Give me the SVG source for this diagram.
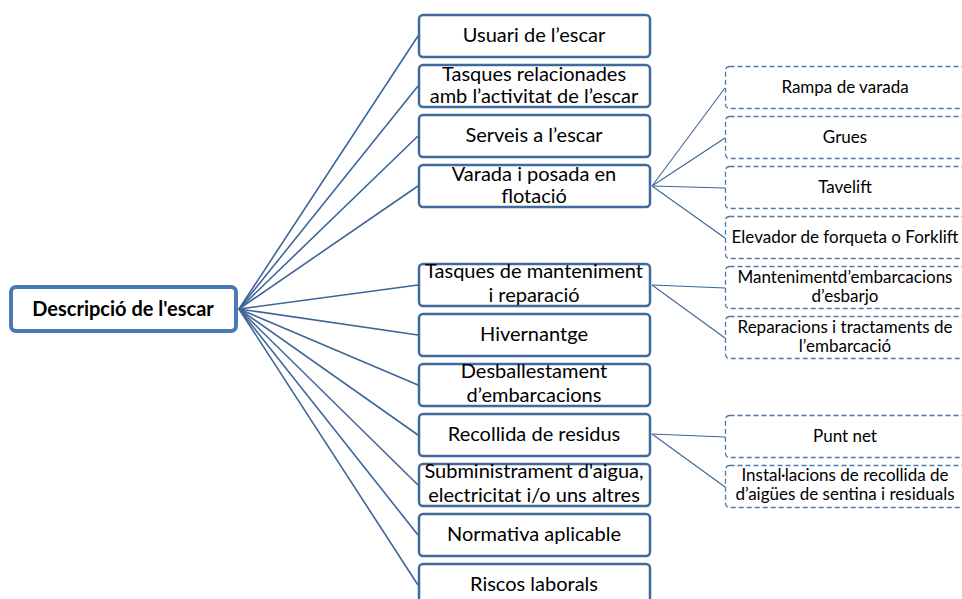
<svg xmlns="http://www.w3.org/2000/svg" width="962" height="599" viewBox="0 0 962 599">
<style>
.root{fill:#fff;stroke:#4A79B3;stroke-width:4}
.mid{fill:#fff;stroke:#41699C;stroke-width:2.5}
.leaf{fill:#fff;stroke:#4F77A8;stroke-width:1.3;stroke-dasharray:5 3}
.con line{stroke:#3E6597;stroke-width:1.6;fill:none}
.con2 line{stroke:#3E6597;stroke-width:1.1}
text{font-family:Lato,"Liberation Sans",sans-serif;fill:#000;text-anchor:middle}
.t{font-size:20px}
.s{font-size:17px}
.b{font-size:20px;font-weight:bold}
</style>
<rect width="962" height="599" fill="#fff"/>
<g id="connectors">
<g class="con">
<line x1="239" y1="309" x2="418" y2="36"/>
<line x1="239" y1="309" x2="418" y2="86"/>
<line x1="239" y1="309" x2="418" y2="136"/>
<line x1="239" y1="309" x2="418" y2="186"/>
<line x1="239" y1="309" x2="418" y2="285"/>
<line x1="239" y1="309" x2="418" y2="335"/>
<line x1="239" y1="309" x2="418" y2="385"/>
<line x1="239" y1="309" x2="418" y2="435"/>
<line x1="239" y1="309" x2="418" y2="485"/>
<line x1="239" y1="309" x2="418" y2="535"/>
<line x1="239" y1="309" x2="418" y2="585"/>
</g>
<g class="con2">
<line x1="652" y1="186" x2="725" y2="88"/>
<line x1="652" y1="186" x2="725" y2="138"/>
<line x1="652" y1="186" x2="725" y2="188"/>
<line x1="652" y1="186" x2="725" y2="238"/>
<line x1="652" y1="285" x2="725" y2="288"/>
<line x1="652" y1="285" x2="725" y2="338"/>
<line x1="652" y1="434" x2="725" y2="437"/>
<line x1="652" y1="434" x2="725" y2="487"/>
</g>
</g>
<g id="root"><rect class="root" x="11" y="287" width="225" height="44" rx="5"/><text class="b" x="123" y="316">Descripció de l'escar</text></g>
<g id="n1"><rect class="mid" x="419" y="15" width="231" height="42" rx="4"/><text class="t" x="534" y="42">Usuari de l’escar</text></g>
<g id="n2"><rect class="mid" x="419" y="65" width="231" height="42" rx="4"/><text class="t" x="534" y="81">Tasques relacionades</text><text class="t" x="534" y="103">amb l’activitat de l’escar</text></g>
<g id="n3"><rect class="mid" x="419" y="115" width="231" height="42" rx="4"/><text class="t" x="534" y="142">Serveis a l’escar</text></g>
<g id="n4"><rect class="mid" x="419" y="165" width="231" height="42" rx="4"/><text class="t" x="534" y="181">Varada i posada en</text><text class="t" x="534" y="203">flotació</text></g>
<g id="n5"><rect class="mid" x="419" y="264" width="231" height="42" rx="4"/><text class="t" x="534" y="278">Tasques de manteniment</text><text class="t" x="534" y="302">i reparació</text></g>
<g id="n6"><rect class="mid" x="419" y="314" width="231" height="42" rx="4"/><text class="t" x="534" y="341">Hivernantge</text></g>
<g id="n7"><rect class="mid" x="419" y="364" width="231" height="42" rx="4"/><text class="t" x="534" y="378">Desballestament</text><text class="t" x="534" y="402">d’embarcacions</text></g>
<g id="n8"><rect class="mid" x="419" y="414" width="231" height="42" rx="4"/><text class="t" x="534" y="441">Recollida de residus</text></g>
<g id="n9"><rect class="mid" x="419" y="464" width="231" height="42" rx="4"/><text class="t" x="534" y="478">Subministrament d'aigua,</text><text class="t" x="534" y="502">electricitat i/o uns altres</text></g>
<g id="n10"><rect class="mid" x="419" y="514" width="231" height="42" rx="4"/><text class="t" x="534" y="541">Normativa aplicable</text></g>
<g id="n11"><rect class="mid" x="419" y="564" width="231" height="42" rx="4"/><text class="t" x="534" y="591">Riscos laborals</text></g>
<g id="c1"><rect class="leaf" x="725.5" y="66.5" width="240" height="42" rx="4"/><text class="s" x="845" y="93">Rampa de varada</text></g>
<g id="c2"><rect class="leaf" x="725.5" y="116.5" width="240" height="42" rx="4"/><text class="s" x="845" y="143">Grues</text></g>
<g id="c3"><rect class="leaf" x="725.5" y="166.5" width="240" height="42" rx="4"/><text class="s" x="845" y="193">Tavelift</text></g>
<g id="c4"><rect class="leaf" x="725.5" y="216.5" width="240" height="42" rx="4"/><text class="s" x="845" y="243">Elevador de forqueta o Forklift</text></g>
<g id="c5"><rect class="leaf" x="725.5" y="266.5" width="240" height="42" rx="4"/><text class="s" x="845" y="283">Mantenimentd’embarcacions</text><text class="s" x="845" y="302">d’esbarjo</text></g>
<g id="c6"><rect class="leaf" x="725.5" y="316.5" width="240" height="42" rx="4"/><text class="s" x="845" y="333">Reparacions i tractaments de</text><text class="s" x="845" y="352">l’embarcació</text></g>
<g id="c7"><rect class="leaf" x="725.5" y="415.5" width="240" height="42" rx="4"/><text class="s" x="845" y="442">Punt net</text></g>
<g id="c8"><rect class="leaf" x="725.5" y="465.5" width="240" height="42" rx="4"/><text class="s" x="845" y="481">Instal·lacions de recollida de</text><text class="s" x="845" y="500">d’aigües de sentina i residuals</text></g>
</svg>
